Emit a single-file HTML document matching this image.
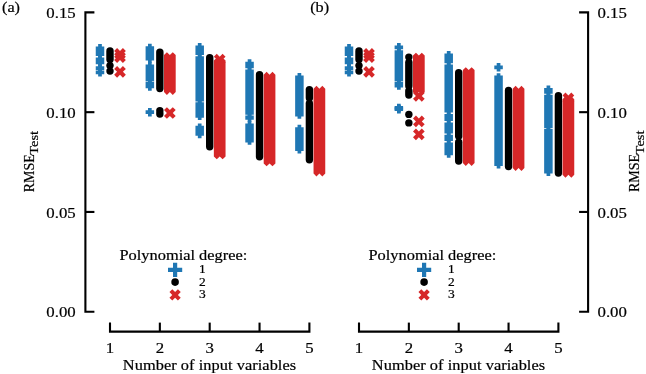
<!DOCTYPE html>
<html><head><meta charset="utf-8"><title>RMSE vs number of input variables</title>
<style>html,body{margin:0;padding:0;background:#fff;overflow:hidden}body{width:646px;height:374px;font-family:"Liberation Serif",serif}</style></head>
<body>
<svg width="646" height="374" viewBox="0 0 646 374" font-family="'Liberation Serif', serif" fill="#000" style="display:block;">
<rect width="646" height="374" fill="#fff"/>
<style>text{stroke:#000;stroke-width:0.20px;stroke-linejoin:round}</style>
<path d="M94.40 12.40H85.40 V311.71 H94.40" fill="none" stroke="#000" stroke-width="2.10" stroke-linejoin="miter"/>
<path d="M85.40 112.17H94.40" stroke="#000" stroke-width="2.10"/>
<path d="M85.40 211.94H94.40" stroke="#000" stroke-width="2.10"/>
<path d="M110.00 322.60V331.60H309.40V322.60" fill="none" stroke="#000" stroke-width="2.10" stroke-linejoin="miter"/>
<path d="M159.85 331.60V322.60" stroke="#000" stroke-width="2.10"/>
<path d="M209.70 331.60V322.60" stroke="#000" stroke-width="2.10"/>
<path d="M259.55 331.60V322.60" stroke="#000" stroke-width="2.10"/>
<text transform="translate(110.00 352.70) scale(1.120 1)" font-size="15.00" text-anchor="middle" letter-spacing="0.000" >1</text>
<text transform="translate(159.85 352.70) scale(1.120 1)" font-size="15.00" text-anchor="middle" letter-spacing="0.000" >2</text>
<text transform="translate(209.70 352.70) scale(1.120 1)" font-size="15.00" text-anchor="middle" letter-spacing="0.000" >3</text>
<text transform="translate(259.55 352.70) scale(1.120 1)" font-size="15.00" text-anchor="middle" letter-spacing="0.000" >4</text>
<text transform="translate(309.40 352.70) scale(1.120 1)" font-size="15.00" text-anchor="middle" letter-spacing="0.000" >5</text>
<text transform="translate(209.50 370.20) scale(1.128 1)" font-size="14.50" text-anchor="middle" letter-spacing="0.050" >Number of input variables</text>
<text transform="translate(75.70 18.10) scale(1.120 1)" font-size="15.00" text-anchor="end" letter-spacing="0.000" >0.15</text>
<text transform="translate(75.70 117.87) scale(1.120 1)" font-size="15.00" text-anchor="end" letter-spacing="0.000" >0.10</text>
<text transform="translate(75.70 217.64) scale(1.120 1)" font-size="15.00" text-anchor="end" letter-spacing="0.000" >0.05</text>
<text transform="translate(75.70 317.41) scale(1.120 1)" font-size="15.00" text-anchor="end" letter-spacing="0.000" >0.00</text>
<text transform="translate(33.50 192.30) rotate(-90) scale(0.930 1)" font-size="15.00" letter-spacing="0.000">RMSE</text>
<text transform="translate(37.50 154.70) rotate(-90) scale(1.200 1)" font-size="12.00" letter-spacing="0.000">Test</text>
<path fill="#1f77b4" d="M95.75 46.50h8.50v9.45h-8.50zM98.15 44.10h3.70v14.25h-3.70z"/>
<path fill="#1f77b4" d="M95.75 57.55h8.50v6.70h-8.50zM98.15 55.15h3.70v11.50h-3.70z"/>
<polygon points="98.15,63.95 101.85,63.95 101.85,66.35 104.25,66.35 104.25,70.05 101.85,70.05 101.85,72.45 98.15,72.45 98.15,70.05 95.75,70.05 95.75,66.35 98.15,66.35" fill="#1f77b4"/>
<polygon points="98.15,68.05 101.85,68.05 101.85,70.45 104.25,70.45 104.25,74.15 101.85,74.15 101.85,76.55 98.15,76.55 98.15,74.15 95.75,74.15 95.75,70.45 98.15,70.45" fill="#1f77b4"/>
<path d="M110.00 51.00V59.50" stroke="#000" stroke-width="7.40" stroke-linecap="round"/>
<circle cx="110.00" cy="65.60" r="3.70" fill="#000"/>
<circle cx="110.00" cy="71.10" r="3.70" fill="#000"/>
<polygon points="117.08,48.05 120.00,50.98 122.92,48.05 125.85,50.98 122.92,53.90 125.85,56.82 122.92,59.75 120.00,56.82 117.08,59.75 114.15,56.82 117.08,53.90 114.15,50.98" fill="#d62728"/>
<polygon points="117.08,51.25 120.00,54.18 122.92,51.25 125.85,54.18 122.92,57.10 125.85,60.02 122.92,62.95 120.00,60.02 117.08,62.95 114.15,60.02 117.08,57.10 114.15,54.18" fill="#d62728"/>
<polygon points="117.08,65.95 120.00,68.88 122.92,65.95 125.85,68.88 122.92,71.80 125.85,74.72 122.92,77.65 120.00,74.72 117.08,77.65 114.15,74.72 117.08,71.80 114.15,68.88" fill="#d62728"/>
<path fill="#1f77b4" d="M145.60 46.25h8.50v14.20h-8.50zM148.00 43.85h3.70v19.00h-3.70z"/>
<path fill="#1f77b4" d="M145.60 64.45h8.50v16.70h-8.50zM148.00 62.05h3.70v21.50h-3.70z"/>
<path fill="#1f77b4" d="M145.60 81.65h8.50v6.60h-8.50zM148.00 79.25h3.70v11.40h-3.70z"/>
<polygon points="148.00,107.95 151.70,107.95 151.70,110.35 154.10,110.35 154.10,114.05 151.70,114.05 151.70,116.45 148.00,116.45 148.00,114.05 145.60,114.05 145.60,110.35 148.00,110.35" fill="#1f77b4"/>
<path d="M159.85 52.10V88.60" stroke="#000" stroke-width="7.40" stroke-linecap="round"/>
<circle cx="159.85" cy="110.70" r="3.70" fill="#000"/>
<circle cx="159.85" cy="114.00" r="3.70" fill="#000"/>
<polygon fill="#d62728" points="164.00,55.08 166.92,52.15 169.85,55.08 172.78,52.15 175.70,55.08 175.70,92.02 172.78,94.95 169.85,92.02 166.92,94.95 164.00,92.02"/>
<polygon points="166.92,107.15 169.85,110.08 172.78,107.15 175.70,110.08 172.78,113.00 175.70,115.92 172.78,118.85 169.85,115.92 166.92,118.85 164.00,115.92 166.92,113.00 164.00,110.08" fill="#d62728"/>
<path fill="#1f77b4" d="M195.45 45.45h8.50v9.60h-8.50zM197.85 43.05h3.70v14.40h-3.70z"/>
<path fill="#1f77b4" d="M195.45 56.15h8.50v45.40h-8.50zM197.85 53.75h3.70v50.20h-3.70z"/>
<path fill="#1f77b4" d="M195.45 102.35h8.50v15.30h-8.50zM197.85 99.95h3.70v20.10h-3.70z"/>
<path fill="#1f77b4" d="M195.45 125.85h8.50v9.90h-8.50zM197.85 123.45h3.70v14.70h-3.70z"/>
<path d="M209.70 57.60V146.80" stroke="#000" stroke-width="7.40" stroke-linecap="round"/>
<polygon points="216.77,53.75 219.70,56.68 222.62,53.75 225.55,56.68 222.62,59.60 225.55,62.52 222.62,65.45 219.70,62.52 216.77,65.45 213.85,62.52 216.77,59.60 213.85,56.68" fill="#d62728"/>
<polygon fill="#d62728" points="213.85,60.58 216.77,57.65 219.70,60.58 222.62,57.65 225.55,60.58 225.55,156.43 222.62,159.35 219.70,156.43 216.77,159.35 213.85,156.43"/>
<path fill="#1f77b4" d="M245.30 61.75h8.50v6.60h-8.50zM247.70 59.35h3.70v11.40h-3.70z"/>
<path fill="#1f77b4" d="M245.30 69.45h8.50v45.40h-8.50zM247.70 67.05h3.70v50.20h-3.70z"/>
<path fill="#1f77b4" d="M245.30 115.45h8.50v4.20h-8.50zM247.70 113.05h3.70v9.00h-3.70z"/>
<path fill="#1f77b4" d="M245.30 123.55h8.50v18.90h-8.50zM247.70 121.15h3.70v23.70h-3.70z"/>
<path d="M259.55 74.80V156.80" stroke="#000" stroke-width="7.40" stroke-linecap="round"/>
<polygon fill="#d62728" points="263.70,74.78 266.62,71.85 269.55,74.78 272.48,71.85 275.40,74.78 275.40,163.43 272.48,166.35 269.55,163.43 266.62,166.35 263.70,163.43"/>
<path fill="#1f77b4" d="M295.15 75.45h8.50v41.00h-8.50zM297.55 73.05h3.70v45.80h-3.70z"/>
<path fill="#1f77b4" d="M295.15 127.15h8.50v23.90h-8.50zM297.55 124.75h3.70v28.70h-3.70z"/>
<path d="M309.40 89.60V97.90" stroke="#000" stroke-width="7.40" stroke-linecap="round"/>
<path d="M309.40 103.40V159.80" stroke="#000" stroke-width="7.40" stroke-linecap="round"/>
<polygon fill="#d62728" points="313.55,88.78 316.47,85.85 319.40,88.78 322.32,85.85 325.25,88.78 325.25,173.62 322.32,176.55 319.40,173.62 316.47,176.55 313.55,173.62"/>
<text transform="translate(183.40 260.30) scale(1.130 1)" font-size="14.50" text-anchor="middle" letter-spacing="0.000" >Polynomial degree:</text>
<polygon points="173.00,262.70 177.20,262.70 177.20,267.70 182.20,267.70 182.20,271.90 177.20,271.90 177.20,276.90 173.00,276.90 173.00,271.90 168.00,271.90 168.00,267.70 173.00,267.70" fill="#1f77b4"/>
<circle cx="175.10" cy="282.10" r="3.80" fill="#000"/>
<polygon points="172.28,289.25 175.10,292.07 177.92,289.25 180.75,292.07 177.92,294.90 180.75,297.72 177.92,300.55 175.10,297.72 172.28,300.55 169.45,297.72 172.28,294.90 169.45,292.07" fill="#d62728"/>
<text transform="translate(199.10 273.30) scale(1.120 1)" font-size="12.00" text-anchor="start" letter-spacing="0.000" >1</text>
<text transform="translate(199.10 285.60) scale(1.120 1)" font-size="12.00" text-anchor="start" letter-spacing="0.000" >2</text>
<text transform="translate(199.10 298.40) scale(1.120 1)" font-size="12.00" text-anchor="start" letter-spacing="0.000" >3</text>
<path d="M579.10 12.40H588.10 V311.71 H579.10" fill="none" stroke="#000" stroke-width="2.10" stroke-linejoin="miter"/>
<path d="M588.10 112.17H579.10" stroke="#000" stroke-width="2.10"/>
<path d="M588.10 211.94H579.10" stroke="#000" stroke-width="2.10"/>
<path d="M359.00 322.60V331.60H558.40V322.60" fill="none" stroke="#000" stroke-width="2.10" stroke-linejoin="miter"/>
<path d="M408.85 331.60V322.60" stroke="#000" stroke-width="2.10"/>
<path d="M458.70 331.60V322.60" stroke="#000" stroke-width="2.10"/>
<path d="M508.55 331.60V322.60" stroke="#000" stroke-width="2.10"/>
<text transform="translate(359.00 352.70) scale(1.120 1)" font-size="15.00" text-anchor="middle" letter-spacing="0.000" >1</text>
<text transform="translate(408.85 352.70) scale(1.120 1)" font-size="15.00" text-anchor="middle" letter-spacing="0.000" >2</text>
<text transform="translate(458.70 352.70) scale(1.120 1)" font-size="15.00" text-anchor="middle" letter-spacing="0.000" >3</text>
<text transform="translate(508.55 352.70) scale(1.120 1)" font-size="15.00" text-anchor="middle" letter-spacing="0.000" >4</text>
<text transform="translate(558.40 352.70) scale(1.120 1)" font-size="15.00" text-anchor="middle" letter-spacing="0.000" >5</text>
<text transform="translate(458.50 370.20) scale(1.128 1)" font-size="14.50" text-anchor="middle" letter-spacing="0.050" >Number of input variables</text>
<text transform="translate(597.50 18.10) scale(1.120 1)" font-size="15.00" text-anchor="start" letter-spacing="0.000" >0.15</text>
<text transform="translate(597.50 117.87) scale(1.120 1)" font-size="15.00" text-anchor="start" letter-spacing="0.000" >0.10</text>
<text transform="translate(597.50 217.64) scale(1.120 1)" font-size="15.00" text-anchor="start" letter-spacing="0.000" >0.05</text>
<text transform="translate(597.50 317.41) scale(1.120 1)" font-size="15.00" text-anchor="start" letter-spacing="0.000" >0.00</text>
<text transform="translate(639.30 192.00) rotate(-90) scale(0.930 1)" font-size="15.00" letter-spacing="0.000">RMSE</text>
<text transform="translate(643.50 154.40) rotate(-90) scale(1.200 1)" font-size="12.00" letter-spacing="0.000">Test</text>
<path fill="#1f77b4" d="M344.75 46.50h8.50v9.45h-8.50zM347.15 44.10h3.70v14.25h-3.70z"/>
<path fill="#1f77b4" d="M344.75 57.55h8.50v6.70h-8.50zM347.15 55.15h3.70v11.50h-3.70z"/>
<polygon points="347.15,63.95 350.85,63.95 350.85,66.35 353.25,66.35 353.25,70.05 350.85,70.05 350.85,72.45 347.15,72.45 347.15,70.05 344.75,70.05 344.75,66.35 347.15,66.35" fill="#1f77b4"/>
<polygon points="347.15,68.05 350.85,68.05 350.85,70.45 353.25,70.45 353.25,74.15 350.85,74.15 350.85,76.55 347.15,76.55 347.15,74.15 344.75,74.15 344.75,70.45 347.15,70.45" fill="#1f77b4"/>
<path d="M359.00 51.00V59.50" stroke="#000" stroke-width="7.40" stroke-linecap="round"/>
<circle cx="359.00" cy="65.60" r="3.70" fill="#000"/>
<circle cx="359.00" cy="71.10" r="3.70" fill="#000"/>
<polygon points="366.07,48.05 369.00,50.98 371.93,48.05 374.85,50.98 371.93,53.90 374.85,56.82 371.93,59.75 369.00,56.82 366.07,59.75 363.15,56.82 366.07,53.90 363.15,50.98" fill="#d62728"/>
<polygon points="366.07,51.25 369.00,54.18 371.93,51.25 374.85,54.18 371.93,57.10 374.85,60.02 371.93,62.95 369.00,60.02 366.07,62.95 363.15,60.02 366.07,57.10 363.15,54.18" fill="#d62728"/>
<polygon points="366.07,65.95 369.00,68.88 371.93,65.95 374.85,68.88 371.93,71.80 374.85,74.72 371.93,77.65 369.00,74.72 366.07,77.65 363.15,74.72 366.07,71.80 363.15,68.88" fill="#d62728"/>
<polygon points="397.00,43.05 400.70,43.05 400.70,45.45 403.10,45.45 403.10,49.15 400.70,49.15 400.70,51.55 397.00,51.55 397.00,49.15 394.60,49.15 394.60,45.45 397.00,45.45" fill="#1f77b4"/>
<path fill="#1f77b4" d="M394.60 50.15h8.50v31.00h-8.50zM397.00 47.75h3.70v35.80h-3.70z"/>
<path fill="#1f77b4" d="M394.60 81.85h8.50v5.60h-8.50zM397.00 79.45h3.70v10.40h-3.70z"/>
<polygon points="397.00,103.65 400.70,103.65 400.70,106.05 403.10,106.05 403.10,109.75 400.70,109.75 400.70,112.15 397.00,112.15 397.00,109.75 394.60,109.75 394.60,106.05 397.00,106.05" fill="#1f77b4"/>
<polygon points="397.00,104.95 400.70,104.95 400.70,107.35 403.10,107.35 403.10,111.05 400.70,111.05 400.70,113.45 397.00,113.45 397.00,111.05 394.60,111.05 394.60,107.35 397.00,107.35" fill="#1f77b4"/>
<circle cx="408.85" cy="57.10" r="3.70" fill="#000"/>
<path d="M408.85 62.50V86.00" stroke="#000" stroke-width="7.40" stroke-linecap="round"/>
<path d="M408.85 91.00V95.00" stroke="#000" stroke-width="7.40" stroke-linecap="round"/>
<circle cx="408.85" cy="114.40" r="3.70" fill="#000"/>
<circle cx="408.85" cy="122.90" r="3.70" fill="#000"/>
<polygon fill="#d62728" points="413.00,55.58 415.93,52.65 418.85,55.58 421.78,52.65 424.70,55.58 424.70,91.92 421.78,94.85 418.85,91.92 415.93,94.85 413.00,91.92"/>
<polygon points="415.93,90.05 418.85,92.98 421.78,90.05 424.70,92.98 421.78,95.90 424.70,98.83 421.78,101.75 418.85,98.83 415.93,101.75 413.00,98.83 415.93,95.90 413.00,92.98" fill="#d62728"/>
<polygon points="415.93,115.55 418.85,118.48 421.78,115.55 424.70,118.48 421.78,121.40 424.70,124.33 421.78,127.25 418.85,124.33 415.93,127.25 413.00,124.33 415.93,121.40 413.00,118.48" fill="#d62728"/>
<polygon points="415.93,128.45 418.85,131.38 421.78,128.45 424.70,131.38 421.78,134.30 424.70,137.23 421.78,140.15 418.85,137.23 415.93,140.15 413.00,137.23 415.93,134.30 413.00,131.38" fill="#d62728"/>
<path fill="#1f77b4" d="M444.45 53.45h8.50v9.90h-8.50zM446.85 51.05h3.70v14.70h-3.70z"/>
<path fill="#1f77b4" d="M444.45 64.45h8.50v48.00h-8.50zM446.85 62.05h3.70v52.80h-3.70z"/>
<path fill="#1f77b4" d="M444.45 113.95h8.50v7.00h-8.50zM446.85 111.55h3.70v11.80h-3.70z"/>
<path fill="#1f77b4" d="M444.45 122.45h8.50v11.00h-8.50zM446.85 120.05h3.70v15.80h-3.70z"/>
<path fill="#1f77b4" d="M444.45 134.85h8.50v6.20h-8.50zM446.85 132.45h3.70v11.00h-3.70z"/>
<path fill="#1f77b4" d="M444.45 142.45h8.50v12.80h-8.50zM446.85 140.05h3.70v17.60h-3.70z"/>
<path d="M458.70 72.60V136.30" stroke="#000" stroke-width="7.40" stroke-linecap="round"/>
<path d="M458.70 142.20V161.10" stroke="#000" stroke-width="7.40" stroke-linecap="round"/>
<polygon fill="#d62728" points="462.85,70.08 465.77,67.15 468.70,70.08 471.62,67.15 474.55,70.08 474.55,163.12 471.62,166.05 468.70,163.12 465.77,166.05 462.85,163.12"/>
<polygon points="496.70,63.05 500.40,63.05 500.40,65.45 502.80,65.45 502.80,69.15 500.40,69.15 500.40,71.55 496.70,71.55 496.70,69.15 494.30,69.15 494.30,65.45 496.70,65.45" fill="#1f77b4"/>
<path fill="#1f77b4" d="M494.30 75.55h8.50v90.50h-8.50zM496.70 73.15h3.70v95.30h-3.70z"/>
<path d="M508.55 90.50V166.50" stroke="#000" stroke-width="7.40" stroke-linecap="round"/>
<polygon fill="#d62728" points="512.70,88.78 515.62,85.85 518.55,88.78 521.47,85.85 524.40,88.78 524.40,168.12 521.47,171.05 518.55,168.12 515.62,171.05 512.70,168.12"/>
<path fill="#1f77b4" d="M544.15 87.95h8.50v5.90h-8.50zM546.55 85.55h3.70v10.70h-3.70z"/>
<path fill="#1f77b4" d="M544.15 94.65h8.50v33.40h-8.50zM546.55 92.25h3.70v38.20h-3.70z"/>
<path fill="#1f77b4" d="M544.15 128.75h8.50v44.80h-8.50zM546.55 126.35h3.70v49.60h-3.70z"/>
<path d="M558.40 95.80V173.10" stroke="#000" stroke-width="7.40" stroke-linecap="round"/>
<polygon points="565.48,92.55 568.40,95.48 571.32,92.55 574.25,95.48 571.32,98.40 574.25,101.33 571.32,104.25 568.40,101.33 565.48,104.25 562.55,101.33 565.48,98.40 562.55,95.48" fill="#d62728"/>
<polygon fill="#d62728" points="562.55,99.28 565.48,96.35 568.40,99.28 571.32,96.35 574.25,99.28 574.25,174.83 571.32,177.75 568.40,174.83 565.48,177.75 562.55,174.83"/>
<text transform="translate(432.40 260.30) scale(1.130 1)" font-size="14.50" text-anchor="middle" letter-spacing="0.000" >Polynomial degree:</text>
<polygon points="422.00,262.70 426.20,262.70 426.20,267.70 431.20,267.70 431.20,271.90 426.20,271.90 426.20,276.90 422.00,276.90 422.00,271.90 417.00,271.90 417.00,267.70 422.00,267.70" fill="#1f77b4"/>
<circle cx="424.10" cy="282.10" r="3.80" fill="#000"/>
<polygon points="421.28,289.25 424.10,292.07 426.93,289.25 429.75,292.07 426.93,294.90 429.75,297.72 426.93,300.55 424.10,297.72 421.28,300.55 418.45,297.72 421.28,294.90 418.45,292.07" fill="#d62728"/>
<text transform="translate(448.10 273.30) scale(1.120 1)" font-size="12.00" text-anchor="start" letter-spacing="0.000" >1</text>
<text transform="translate(448.10 285.60) scale(1.120 1)" font-size="12.00" text-anchor="start" letter-spacing="0.000" >2</text>
<text transform="translate(448.10 298.40) scale(1.120 1)" font-size="12.00" text-anchor="start" letter-spacing="0.000" >3</text>
<text transform="translate(2.00 11.80) scale(1.120 1)" font-size="14.50" text-anchor="start" letter-spacing="0.000" >(a)</text>
<text transform="translate(310.20 11.80) scale(1.120 1)" font-size="14.50" text-anchor="start" letter-spacing="0.000" >(b)</text>
</svg>
</body></html>
